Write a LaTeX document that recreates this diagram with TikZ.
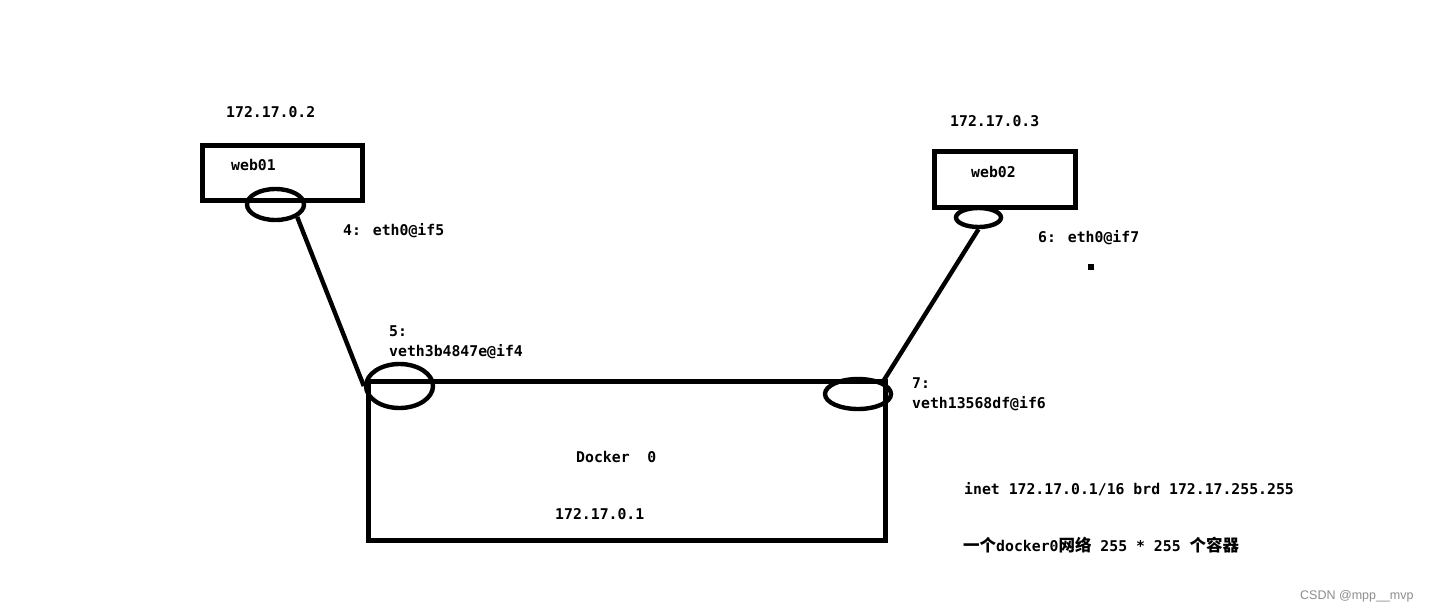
\documentclass[tikz,border=0pt]{standalone}
\usepackage{fontspec}
\usetikzlibrary{shapes.geometric}
\newfontfamily\monof{DejaVu Sans Mono}
\newfontfamily\cjkf{Noto Sans CJK SC}
\newfontfamily\markf{Liberation Sans}
\begin{document}
\begin{tikzpicture}[x=1pt,y=-1pt,
  thick line/.style={line width=4.4pt},
  box/.style={draw,line width=5pt,rectangle,inner sep=0pt},
  port/.style={draw,thick line,ellipse,inner sep=0pt},
  lbl/.style={anchor=base west,inner sep=0pt,font=\monof\bfseries\fontsize{14.8}{17}\selectfont},
  conn/.style={thick line}]
\useasboundingbox (0,0) rectangle (1430,611);
% boxes
\node[box,minimum width=160pt,minimum height=55pt] (web01) at (282.5,173) {};
\node[box,minimum width=141pt,minimum height=56pt] (web02) at (1005,179.5) {};
\node[box,minimum width=517pt,minimum height=159pt] (docker) at (627,461) {};
% ports
\node[port,minimum width=57pt,minimum height=31pt] (e1) at (275.5,204.5) {};
\node[port,minimum width=45pt,minimum height=19pt] (e2) at (978.5,217.5) {};
\node[port,minimum width=67pt,minimum height=44pt] (d1) at (399.5,386) {};
\node[port,minimum width=66pt,minimum height=30pt] (d2) at (858,394) {};
% connectors
\draw[conn] (e1.south east) -- (d1.west);
\draw[conn] (e2.south) -- (d2.north east);
% small mark
\node[fill=black,minimum size=6pt,inner sep=0pt] (dot) at (1091,267) {};
% labels
\node[lbl] (ip2) at (226,117) {172.17.0.2};
\node[lbl] (w1) at (231,170) {web01};
\node[lbl] (eth1) at (343,235) {4: eth0@if5};
\node[lbl] (ip3) at (950,126) {172.17.0.3};
\node[lbl] (w2) at (971,177) {web02};
\node[lbl] (eth2) at (1038,242) {6: eth0@if7};
\node[lbl] (v1a) at (389,336) {5:};
\node[lbl] (v1b) at (389,356) {veth3b4847e@if4};
\node[lbl] (v2a) at (912,388) {7:};
\node[lbl] (v2b) at (912,408) {veth13568df@if6};
\node[lbl] (dk) at (576,462) {Docker\ \ 0};
\node[lbl] (ip1) at (555,519) {172.17.0.1};
\node[lbl] (inet) at (964,494) {inet 172.17.0.1/16 brd 172.17.255.255};
\node[lbl] (cn) at (963,551) {{\cjkf\bfseries\fontsize{16.5}{18}\selectfont 一个}docker0{\cjkf\bfseries\fontsize{16.5}{18}\selectfont 网络} 255 * 255 {\cjkf\bfseries\fontsize{16.5}{18}\selectfont 个容器}};
\node[anchor=base west,inner sep=0pt,text=black!45,font=\markf\fontsize{12.5}{14}\selectfont] (wm) at (1300,599) {CSDN @mpp\_\_mvp};
\end{tikzpicture}
\end{document}
